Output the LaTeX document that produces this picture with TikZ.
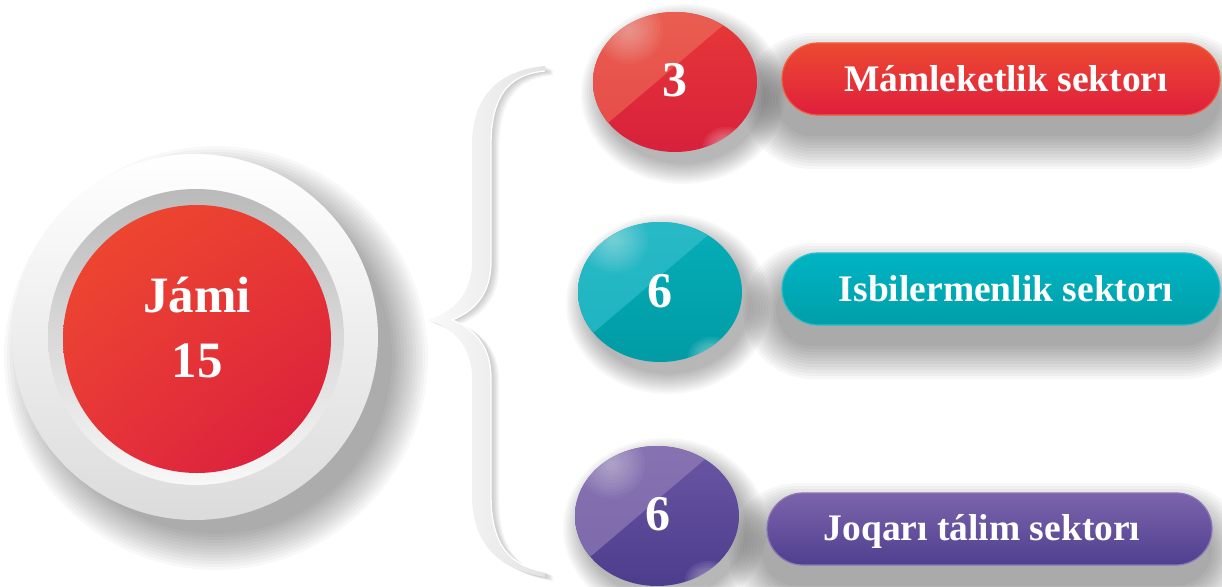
\documentclass[tikz,border=0pt]{standalone}
\usepackage{fontspec}
\setmainfont{Liberation Serif}
\usetikzlibrary{calc,shadings}
\definecolor{redA}{HTML}{EC4A31}
\definecolor{redB}{HTML}{E01E3D}
\definecolor{redE}{HTML}{F0603E}
\definecolor{tealA}{HTML}{00B4C4}
\definecolor{tealB}{HTML}{009FA8}
\definecolor{tealE}{HTML}{29BECB}
\definecolor{purA}{HTML}{7C64AC}
\definecolor{purB}{HTML}{4F3F8F}
\definecolor{purE}{HTML}{8B76B8}
\definecolor{redL1}{HTML}{EB6152}
\definecolor{redL2}{HTML}{E54A48}
\definecolor{redD1}{HTML}{E83B38}
\definecolor{redD2}{HTML}{D61E3C}
\definecolor{tealL1}{HTML}{2ABBC7}
\definecolor{tealL2}{HTML}{1DB3C0}
\definecolor{tealD1}{HTML}{06AFB9}
\definecolor{tealD2}{HTML}{009AA3}
\definecolor{purL1}{HTML}{8975B3}
\definecolor{purL2}{HTML}{7B68AA}
\definecolor{purD1}{HTML}{6C58A5}
\definecolor{purD2}{HTML}{4B3B8B}
\definecolor{bigUL}{HTML}{EF4B2E}
\definecolor{bigUR}{HTML}{E83A33}
\definecolor{bigLL}{HTML}{E6343A}
\definecolor{bigLR}{HTML}{D81A3F}
\tikzset{
  numtext/.style={text=white,font=\bfseries\fontsize{50}{50}\selectfont,anchor=base,inner sep=0pt},
  bigtext/.style={text=white,font=\bfseries\fontsize{51}{51}\selectfont,anchor=base,inner sep=0pt},
  pilltext/.style={text=white,font=\bfseries\fontsize{37.5}{37.5}\selectfont,anchor=base,inner sep=0pt},
}
\newcommand\ellshadow[6]{% cx cy rx ry step n
  \foreach \k in {0,...,#6}{%
    \pgfmathsetmacro\rxx{#3+#5*\k}\pgfmathsetmacro\ryy{#4+#5*\k}%
    \fill[black,opacity=0.028] (#1,#2) ellipse [x radius=\rxx pt, y radius=\ryy pt];}}
\newcommand\pillshadow[4]{% x1 y1 x2 y2
  \foreach \k in {0,...,11}{%
    \pgfmathsetmacro\ee{3*\k}\pgfmathsetmacro\rc{36+\ee}%
    \fill[black,opacity=0.033,rounded corners=\rc pt] ($(#1,#2)+(-\ee,-\ee)$) rectangle ($(#3,#4)+(\ee,\ee)$);}}
\newcommand\pill[6]{% x1 y1 x2 y2 colour-prefix
  \shade[top color=#5A, bottom color=#5B, draw=#5E, line width=1.2pt, rounded corners=36pt] (#1,#2) rectangle (#3,#4);}
\newcommand\ball[4]{% cx cy colour-prefix
  \ellshadow{#1+8}{#2+12}{82}{70}{2}{10}
  \begin{scope}
    \clip (#1,#2) ellipse [x radius=82pt, y radius=70pt];
    \shade[top color=#3D1, bottom color=#3D2] (#1-90,#2-80) rectangle (#1+90,#2+80);
    \shade[top color=#3L1, bottom color=#3L2] (#1-100,#2+69) -- (#1+100,#2-101) -- (#1-100,#2-101) -- cycle;
    \foreach \r in {4,7,...,34}{\fill[white,opacity=0.04] (#1-46,#2-52) circle (\r pt);}
    \foreach \r in {3,6,...,24}{\fill[white,opacity=0.07] (#1+52,#2+64) ellipse [x radius=\r pt, y radius=0.8*\r pt];}
  \end{scope}
}
\begin{document}
\begin{tikzpicture}[x=1pt,y=-1pt]
\useasboundingbox (0,0) rectangle (1222,586);
\fill[white] (0,0) rectangle (1222,586);

% ---------- shadows of the pills
\pillshadow{776}{66}{1220}{136}
\pillshadow{776}{276}{1220}{346}
\pillshadow{761}{516}{1212}{586}

% ---------- big circle
\ellshadow{216}{358}{176}{176}{3}{12}
\shade[top color=white, bottom color=black!14] (195,337) circle (183pt);
\shade[top color=black!27, bottom color=black!3] (196,337) circle (148pt);
\shade[upper left=bigUL, upper right=bigUR, lower left=bigLL, lower right=bigLR] (197,339) circle (134pt);
\node[bigtext] (jami) at (197,312) {Jámi};
\node[bigtext] (total) at (197,377) {15};

% ---------- brace
\foreach \s in {1,2,...,7}{
  \fill[black,opacity=0.03,shift={(1.2*\s,0.6*\s)}]
    (545,66) .. controls (500,70) and (472,95) .. (472,145) -- (472,262)
    .. controls (472,295) and (452,313) .. (427,320)
    .. controls (452,327) and (472,345) .. (472,378) -- (472,495)
    .. controls (472,545) and (500,570) .. (545,577) -- (545,572)
    .. controls (512,566) and (491,548) .. (491,495) -- (491,378)
    .. controls (491,350) and (478,330) .. (452,320)
    .. controls (478,310) and (491,290) .. (491,262) -- (491,145)
    .. controls (491,92) and (512,74) .. (545,71) -- cycle;}
\shade[left color=black!2, right color=black!11]
    (545,66) .. controls (500,70) and (472,95) .. (472,145) -- (472,262)
    .. controls (472,295) and (452,313) .. (427,320)
    .. controls (452,327) and (472,345) .. (472,378) -- (472,495)
    .. controls (472,545) and (500,570) .. (545,577) -- (545,572)
    .. controls (512,566) and (491,548) .. (491,495) -- (491,378)
    .. controls (491,350) and (478,330) .. (452,320)
    .. controls (478,310) and (491,290) .. (491,262) -- (491,145)
    .. controls (491,92) and (512,74) .. (545,71) -- cycle;
\draw[white,line width=1.3pt]
    (545,572) .. controls (512,566) and (491,548) .. (491,495) -- (491,378)
    .. controls (491,350) and (478,330) .. (452,320)
    .. controls (478,310) and (491,290) .. (491,262) -- (491,145)
    .. controls (491,92) and (512,74) .. (545,71);

% ---------- balls
\ball{675}{82}{red}{}
\ball{660}{292}{teal}{}
\ball{657}{516}{pur}{}
\node[numtext] (n1) at (675,96) {3};
\node[numtext] (n2) at (660,307) {6};
\node[numtext] (n3) at (658,530) {6};

% ---------- pills
\pill{782}{43}{1220}{115}{red}{}
\pill{782}{253}{1220}{325}{teal}{}
\pill{767}{493}{1212}{565}{pur}{}
\node[pilltext] (t1) at (1006,91) {Mámleketlik sektorı};
\node[pilltext] (t2) at (1006,301) {Isbilermenlik sektorı};
\node[pilltext] (t3) at (982,540) {Joqarı tálim sektorı};
\end{tikzpicture}
\end{document}
